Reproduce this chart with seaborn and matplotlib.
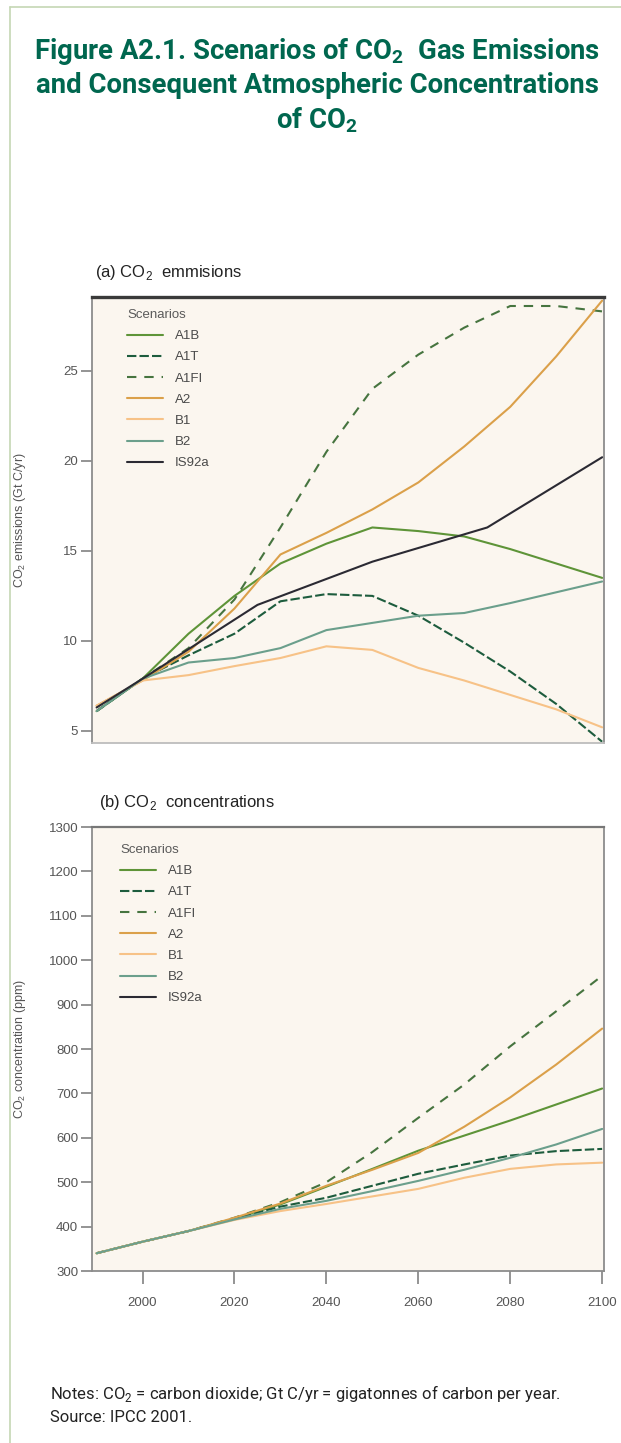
import seaborn as sns
import matplotlib.pyplot as plt
from matplotlib import font_manager

# 설치된 폰트 중에서 좁은 글꼴 고르기
installed = {f.name for f in font_manager.fontManager.ttflist}
narrow = 'Liberation Sans Narrow' if 'Liberation Sans Narrow' in installed else 'Liberation Sans'
title_font = 'Roboto' if 'Roboto' in installed else 'DejaVu Sans'

# ---- data ----
years = [1990, 2000, 2010, 2020, 2030, 2040, 2050, 2060, 2070, 2080, 2090, 2100]
is92a_years = [1990, 2000, 2025, 2050, 2075, 2100]

# (a) CO2 emissions, Gt C/yr
emis_A1B = [6.1, 7.9, 10.4, 12.5, 14.3, 15.4, 16.3, 16.1, 15.8, 15.1, 14.3, 13.5]
emis_A1T = [6.1, 7.9, 9.2, 10.4, 12.2, 12.6, 12.5, 11.4, 9.9, 8.3, 6.5, 4.4]
emis_A1FI = [6.1, 7.9, 9.6, 12.3, 16.3, 20.5, 24.0, 25.9, 27.4, 28.6, 28.6, 28.3]
emis_A2 = [6.4, 7.8, 9.4, 11.8, 14.8, 16.0, 17.3, 18.8, 20.8, 23.0, 25.8, 28.9]
emis_B1 = [6.4, 7.8, 8.1, 8.6, 9.05, 9.7, 9.5, 8.5, 7.8, 7.0, 6.2, 5.2]
emis_B2 = [6.1, 7.9, 8.8, 9.05, 9.6, 10.6, 11.0, 11.4, 11.55, 12.1, 12.7, 13.3]
emis_IS92a = [6.3, 7.9, 12.0, 14.4, 16.3, 20.2]

# (b) CO2 concentrations, ppm
conc_A1B = [340, 366, 390, 418, 450, 490, 530, 571, 605, 639, 675, 711]
conc_A1T = [340, 366, 390, 418, 445, 465, 492, 519, 540, 560, 570, 575]
conc_A1FI = [340, 366, 390, 420, 455, 500, 568, 645, 720, 806, 885, 965]
conc_A2 = [340, 366, 390, 420, 452, 492, 528, 566, 625, 691, 765, 846]
conc_B1 = [340, 366, 390, 415, 435, 451, 468, 485, 510, 530, 540, 544]
conc_B2 = [340, 366, 390, 416, 440, 458, 480, 503, 528, 555, 585, 620]

scenarios = ['A1B', 'A1T', 'A1FI', 'A2', 'B1', 'B2', 'IS92a']
emissions = {'A1B': (years, emis_A1B), 'A1T': (years, emis_A1T), 'A1FI': (years, emis_A1FI),
             'A2': (years, emis_A2), 'B1': (years, emis_B1), 'B2': (years, emis_B2),
             'IS92a': (is92a_years, emis_IS92a)}
concentrations = {'A1B': conc_A1B, 'A1T': conc_A1T, 'A1FI': conc_A1FI,
                  'A2': conc_A2, 'B1': conc_B1, 'B2': conc_B2}

colors = {'A1B': '#5e9438', 'A1T': '#1d5c3d', 'A1FI': '#46743f', 'A2': '#dba04a',
          'B1': '#f7c287', 'B2': '#6b9f8c', 'IS92a': '#2b2a33'}
styles = {'A1B': '-', 'A1T': (0, (4.5, 1.5)), 'A1FI': (0, (4.5, 3.8)), 'A2': '-',
          'B1': '-', 'B2': '-', 'IS92a': '-'}

sns.set_style('ticks')
plt.rcParams['font.family'] = [narrow, 'DejaVu Sans']
plt.rcParams['mathtext.fontset'] = 'custom'
plt.rcParams['mathtext.rm'] = narrow
plt.rcParams['mathtext.bf'] = title_font + ':bold'
plt.rcParams['mathtext.sf'] = title_font

fig = plt.figure(figsize=(6.21, 14.43), dpi=100)
W, H = 621, 1443

def box(l, t, r, b):
    return [l / W, 1 - b / H, (r - l) / W, (b - t) / H]

ax1 = fig.add_axes(box(92, 297, 604, 743))
ax2 = fig.add_axes(box(92, 827, 604, 1271))

# 페이지 테두리 (왼쪽, 위)
fig.add_artist(plt.Line2D([10 / W, 10 / W], [0, 1 - 7 / H], color='#c5d7b4', lw=1.2))
fig.add_artist(plt.Line2D([10 / W, 1], [1 - 7 / H, 1 - 7 / H], color='#c5d7b4', lw=1.2))

# (a) emissions
for name in scenarios:
    x, y = emissions[name]
    sns.lineplot(x=x, y=y, ax=ax1, color=colors[name], linestyle=styles[name],
                 linewidth=1.5, label=name)

# (b) concentrations (IS92a has no visible line, legend only)
for name in scenarios:
    if name in concentrations:
        sns.lineplot(x=years, y=concentrations[name], ax=ax2, color=colors[name],
                     linestyle=styles[name], linewidth=1.5, label=name)
    else:
        ax2.plot([], [], color=colors[name], linestyle=styles[name], linewidth=1.5, label=name)

for ax in (ax1, ax2):
    ax.set_facecolor('#fbf6ef')
    ax.set_xlim(1989, 2100.4)
    ax.set_xlabel('')
    ax.set_ylabel('')
    ax.tick_params(axis='y', length=8, width=1.1, color='#777', labelcolor='#555',
                   labelsize=9.5, pad=2)
    for s in ax.spines.values():
        s.set_visible(True)
        s.set_linewidth(1.3)
        s.set_color('#8c8c8c')

ax1.set_ylim(4.33, 29.1)
ax1.set_yticks([5, 10, 15, 20, 25])
ax1.set_xticks([])
ax1.spines['top'].set_color('#3a3a3a')
ax1.spines['top'].set_linewidth(2.4)
ax1.spines['bottom'].set_color('#bdbdbd')

ax2.set_ylim(300, 1300)
ax2.set_yticks(range(300, 1301, 100))
ax2.set_xticks(range(2000, 2101, 20))
ax2.tick_params(axis='x', length=9, width=1.1, color='#777', labelcolor='#555',
                labelsize=9.5, pad=10)
ax2.spines['top'].set_color('#777')
ax2.spines['top'].set_linewidth(1.6)

leg_kw = dict(title='Scenarios', frameon=False, loc='upper left', borderpad=0,
              borderaxespad=0, handlelength=2.7, handletextpad=0.9, labelspacing=0.68,
              fontsize=9.5, title_fontsize=9.5, alignment='left', labelcolor='#4a4a4a')
leg1 = ax1.legend(bbox_to_anchor=(35 / 512, 1 - 12 / 446), **leg_kw)
leg2 = ax2.legend(bbox_to_anchor=(28 / 512, 1 - 17 / 444), **leg_kw)
for leg in (leg1, leg2):
    leg.get_title().set_color('#5a5a5a')

# axis titles
fig.text(20 / W, 1 - 520 / H, 'CO$_2$ emissions (Gt C/yr)', rotation=90, ha='center',
         va='center', fontsize=9, color='#555')
fig.text(20 / W, 1 - 1049 / H, 'CO$_2$ concentration (ppm)', rotation=90, ha='center',
         va='center', fontsize=9, color='#555')

fig.text(95 / W, 1 - 272 / H, '(a) CO$_2$  emmisions', va='center', fontsize=12, color='#222')
fig.text(99 / W, 1 - 803 / H, '(b) CO$_2$  concentrations', va='center', fontsize=12, color='#222')

# title
green = '#00674f'
title_lines = ['Figure A2.1. Scenarios of CO$_\\mathbf{2}$  Gas Emissions',
               'and Consequent Atmospheric Concentrations',
               'of CO$_\\mathbf{2}$']
for line, yb in zip(title_lines, [59, 93, 128]):
    fig.text(317 / W, 1 - yb / H, line, ha='center', va='baseline', fontsize=19.8,
             fontweight='bold', color=green, family=title_font)

# notes
fig.text(50 / W, 1 - 1394 / H, 'Notes: CO$_\\mathsf{2}$ = carbon dioxide; Gt C/yr = gigatonnes of carbon per year.',
         va='center', fontsize=12, color='#222', family=title_font)
fig.text(50 / W, 1 - 1418 / H, 'Source: IPCC 2001.', va='center', fontsize=12,
         color='#222', family=title_font)

plt.savefig('out.png', dpi=100)
